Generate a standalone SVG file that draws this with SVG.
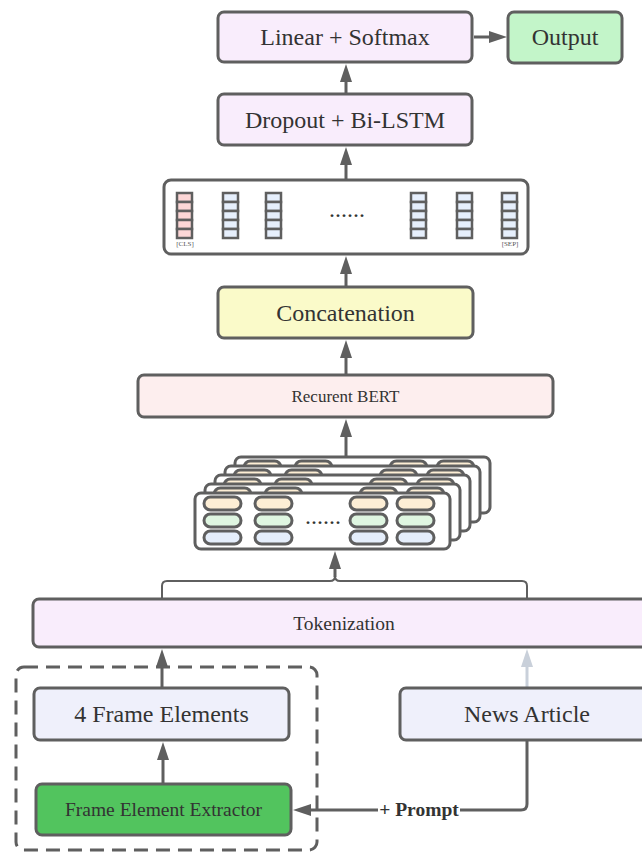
<svg xmlns="http://www.w3.org/2000/svg" width="642" height="852" viewBox="0 0 642 852">
  <style>
    .box { stroke: #5f5f5f; stroke-width: 3; }
    .lbl { font-family: "Liberation Serif", "Times New Roman", serif; fill: #333; text-anchor: middle; }
    .big { font-size: 24px; }
    .mid { font-size: 19.5px; }
    .sml { font-size: 17px; }
    .tiny { font-size: 7px; fill: #555; }
    .edge { fill: none; stroke: #5f5f5f; stroke-width: 3; }
    .cell { stroke: #5f5f5f; stroke-width: 2.5; }
    .pill { stroke: #5f5f5f; stroke-width: 3; }
    .card { fill: #fff; stroke: #5f5f5f; stroke-width: 3; }
  </style>
  <defs>
    <marker id="arrow" viewBox="0 0 18 12" refX="12" refY="6" markerWidth="18" markerHeight="12" markerUnits="userSpaceOnUse" orient="auto">
      <path d="M0,0 L18,6 L0,12 z" fill="#5f5f5f"/>
    </marker>
    <marker id="arrow-light" viewBox="0 0 18 12" refX="12" refY="6" markerWidth="18" markerHeight="12" markerUnits="userSpaceOnUse" orient="auto">
      <path d="M0,0 L18,6 L0,12 z" fill="#c9d0da"/>
    </marker>
    <!-- token column: five stacked cells -->
    <g id="col-blue">
      <rect x="0" y="0" width="15" height="9" class="cell" fill="#e6effc"/>
      <rect x="0" y="9" width="15" height="9" class="cell" fill="#e6effc"/>
      <rect x="0" y="18" width="15" height="9" class="cell" fill="#e6effc"/>
      <rect x="0" y="27" width="15" height="9" class="cell" fill="#e6effc"/>
      <rect x="0" y="36" width="15" height="9" class="cell" fill="#e6effc"/>
    </g>
    <g id="col-red">
      <rect x="0" y="0" width="15" height="9" class="cell" fill="#fcd6d6"/>
      <rect x="0" y="9" width="15" height="9" class="cell" fill="#fcd6d6"/>
      <rect x="0" y="18" width="15" height="9" class="cell" fill="#fcd6d6"/>
      <rect x="0" y="27" width="15" height="9" class="cell" fill="#fcd6d6"/>
      <rect x="0" y="36" width="15" height="9" class="cell" fill="#fcd6d6"/>
    </g>
    <!-- one input card with three embedding rows -->
    <g id="card">
      <rect x="0" y="0" width="255" height="56" rx="6" class="card"/>
      <g class="pill">
        <rect x="9" y="4" width="37" height="13" rx="6.5" fill="#fdeed5"/>
        <rect x="60" y="4" width="37" height="13" rx="6.5" fill="#fdeed5"/>
        <rect x="155" y="4" width="37" height="13" rx="6.5" fill="#fdeed5"/>
        <rect x="202" y="4" width="37" height="13" rx="6.5" fill="#fdeed5"/>
        <rect x="9" y="21" width="37" height="13" rx="6.5" fill="#dff6e1"/>
        <rect x="60" y="21" width="37" height="13" rx="6.5" fill="#dff6e1"/>
        <rect x="155" y="21" width="37" height="13" rx="6.5" fill="#dff6e1"/>
        <rect x="202" y="21" width="37" height="13" rx="6.5" fill="#dff6e1"/>
        <rect x="9" y="38" width="37" height="13" rx="6.5" fill="#e5eefb"/>
        <rect x="60" y="38" width="37" height="13" rx="6.5" fill="#e5eefb"/>
        <rect x="155" y="38" width="37" height="13" rx="6.5" fill="#e5eefb"/>
        <rect x="202" y="38" width="37" height="13" rx="6.5" fill="#e5eefb"/>
      </g>
      <text x="128" y="31" class="lbl big">......</text>
    </g>
  </defs>

  <!-- connectors -->
  <g id="connectors">
    <path d="M474,37 H501" class="edge" marker-end="url(#arrow)"/>
    <path d="M346,94 V70" class="edge" marker-end="url(#arrow)"/>
    <path d="M346,180 V153" class="edge" marker-end="url(#arrow)"/>
    <path d="M346,287 V262" class="edge" marker-end="url(#arrow)"/>
    <path d="M346,375 V346" class="edge" marker-end="url(#arrow)"/>
    <path d="M346,457 V425" class="edge" marker-end="url(#arrow)"/>
    <path d="M162,599 V586 Q162,581 167,581 H330 Q335,581 335,576" fill="none" stroke="#5f5f5f" stroke-width="2"/>
    <path d="M527,599 V586 Q527,581 522,581 H340 Q335,581 335,576" fill="none" stroke="#5f5f5f" stroke-width="2"/>
    <path d="M335,577 V557" class="edge" marker-end="url(#arrow)"/>
    <path d="M162,688 V655" class="edge" marker-end="url(#arrow)"/>
    <path d="M527,688 V655" fill="none" stroke="#c9d0da" stroke-width="3" marker-end="url(#arrow-light)"/>
    <path d="M163,784 V748" class="edge" marker-end="url(#arrow)"/>
    <path d="M527,740 V804 Q527,810 521,810 H299" class="edge" marker-end="url(#arrow)"/>
    <rect x="378" y="799" width="82" height="22" fill="#fff"/>
    <text x="419" y="816" class="lbl mid" font-weight="bold">+ Prompt</text>
  </g>

  <g id="linear-softmax">
    <rect x="218" y="12" width="254" height="50" rx="6" class="box" fill="#f9edfc"/>
    <text x="345" y="45" class="lbl big">Linear + Softmax</text>
  </g>
  <g id="output">
    <rect x="508" y="12" width="114" height="51" rx="6" class="box" fill="#c3f5c9"/>
    <text x="565" y="45" class="lbl big">Output</text>
  </g>
  <g id="dropout-bilstm">
    <rect x="218" y="94" width="254" height="51" rx="6" class="box" fill="#f9edfc"/>
    <text x="345" y="128" class="lbl big">Dropout + Bi-LSTM</text>
  </g>

  <g id="token-vectors">
    <rect x="164" y="180" width="364" height="74" rx="7" class="box" fill="#fff"/>
    <use href="#col-red" x="177" y="193"/>
    <use href="#col-blue" x="223" y="193"/>
    <use href="#col-blue" x="266" y="193"/>
    <use href="#col-blue" x="411" y="193"/>
    <use href="#col-blue" x="457" y="193"/>
    <use href="#col-blue" x="502" y="193"/>
    <text x="347" y="217" class="lbl big">......</text>
    <text x="185" y="246" class="lbl tiny">[CLS]</text>
    <text x="510" y="246" class="lbl tiny">[SEP]</text>
  </g>

  <g id="concatenation">
    <rect x="218" y="287" width="255" height="51" rx="6" class="box" fill="#fafac9"/>
    <text x="345.5" y="320.5" class="lbl big">Concatenation</text>
  </g>
  <g id="recurrent-bert">
    <rect x="138" y="375" width="415" height="42" rx="6" class="box" fill="#fdeeee"/>
    <text x="345.5" y="401.5" class="lbl sml">Recurent BERT</text>
  </g>

  <g id="input-cards">
    <use href="#card" x="235" y="457"/>
    <use href="#card" x="225" y="466"/>
    <use href="#card" x="215" y="475"/>
    <use href="#card" x="205" y="484"/>
    <use href="#card" x="195" y="493"/>
  </g>

  <g id="tokenization">
    <rect x="33" y="599" width="622" height="48" rx="6" class="box" fill="#f9edfc"/>
    <text x="344" y="630" class="lbl mid">Tokenization</text>
  </g>

  <g id="frame-group">
    <rect x="16" y="667" width="301" height="183" rx="8" fill="none" stroke="#5f5f5f" stroke-width="3" stroke-dasharray="14 8"/>
  </g>
  <g id="frame-elements">
    <rect x="34" y="688" width="255" height="52" rx="6" class="box" fill="#eff0fb"/>
    <text x="161.5" y="722" class="lbl big">4 Frame Elements</text>
  </g>
  <g id="news-article">
    <rect x="400" y="688" width="254" height="52" rx="6" class="box" fill="#eff0fb"/>
    <text x="527" y="722" class="lbl big">News Article</text>
  </g>
  <g id="frame-extractor">
    <rect x="36" y="784" width="255" height="51" rx="6" class="box" fill="#52c45e"/>
    <text x="163.5" y="816" class="lbl mid">Frame Element Extractor</text>
  </g>
</svg>
